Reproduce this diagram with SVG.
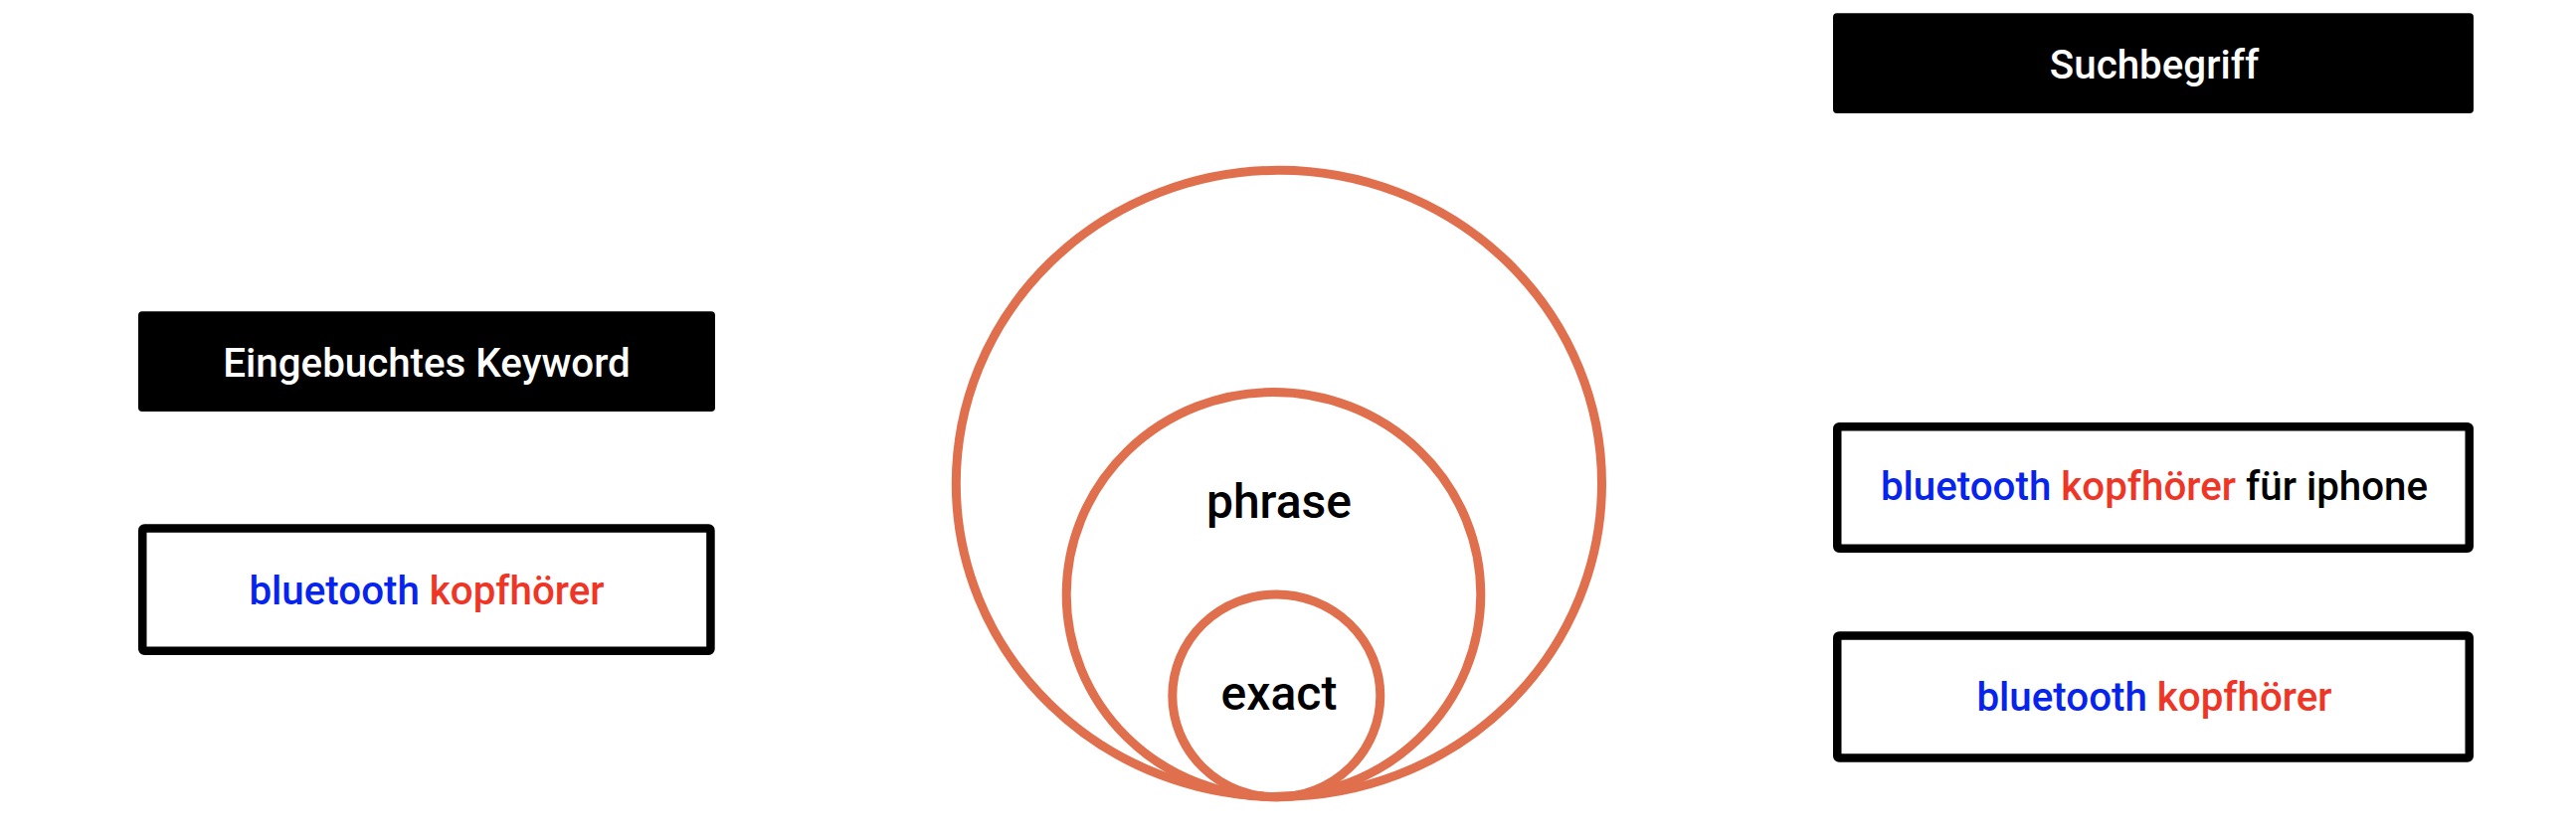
<svg xmlns="http://www.w3.org/2000/svg" width="2590" height="838" viewBox="0 0 2590 838">
  <style>
    .hdr { fill: #000000; }
    .hdr-text { font-family: Roboto, "Liberation Sans", sans-serif; font-size: 40.3px; font-weight: 500; fill: #ffffff; text-anchor: middle; }
    .box { fill: #ffffff; stroke: #000000; stroke-width: 8.5; }
    .box-text { font-family: Roboto, "Liberation Sans", sans-serif; font-size: 40.3px; font-weight: 500; fill: #000000; text-anchor: middle; }
    .blue { fill: #0624EE; }
    .red { fill: #EE3526; }
    .ring { fill: none; stroke: #E0704D; stroke-width: 9; }
    .ring-text { font-family: Roboto, "Liberation Sans", sans-serif; font-size: 48px; font-weight: 500; fill: #000000; text-anchor: middle; }
  </style>
  <rect x="0" y="0" width="2590" height="838" fill="#ffffff"/>

  <g id="eingebuchtes-keyword">
    <rect class="hdr" x="139" y="313.3" width="580" height="100.7" rx="4"/>
    <text class="hdr-text" x="429" y="379">Eingebuchtes Keyword</text>
  </g>

  <g id="keyword-box">
    <rect class="box" x="143.25" y="531.5" width="571.2" height="123.3" rx="2"/>
    <text class="box-text" x="429" y="607.5"><tspan class="blue">bluetooth</tspan> <tspan class="red">kopfhörer</tspan></text>
  </g>

  <g id="match-rings">
    <g id="broad">
      <ellipse class="ring" cx="1285.9" cy="486.4" rx="324.6" ry="315.1"/>
    </g>
    <g id="phrase">
      <ellipse class="ring" cx="1280.5" cy="598" rx="208.3" ry="203.5"/>
      <text class="ring-text" x="1286" y="521">phrase</text>
    </g>
    <g id="exact">
      <ellipse class="ring" cx="1283.3" cy="700" rx="104.5" ry="102"/>
      <text class="ring-text" x="1286" y="714">exact</text>
    </g>
  </g>

  <g id="suchbegriff">
    <rect class="hdr" x="1843" y="13.3" width="644" height="100.7" rx="4"/>
    <text class="hdr-text" x="2166" y="78.5">Suchbegriff</text>
  </g>

  <g id="search-term-1">
    <rect class="box" x="1847.25" y="429.25" width="635.5" height="122.5" rx="2"/>
    <text class="box-text" x="2166" y="503"><tspan class="blue">bluetooth</tspan> <tspan class="red">kopfhörer</tspan> <tspan>für iphone</tspan></text>
  </g>

  <g id="search-term-2">
    <rect class="box" x="1847.25" y="639.5" width="635.5" height="123" rx="2"/>
    <text class="box-text" x="2166" y="715"><tspan class="blue">bluetooth</tspan> <tspan class="red">kopfhörer</tspan></text>
  </g>

  <g id="connectors"/>
</svg>
